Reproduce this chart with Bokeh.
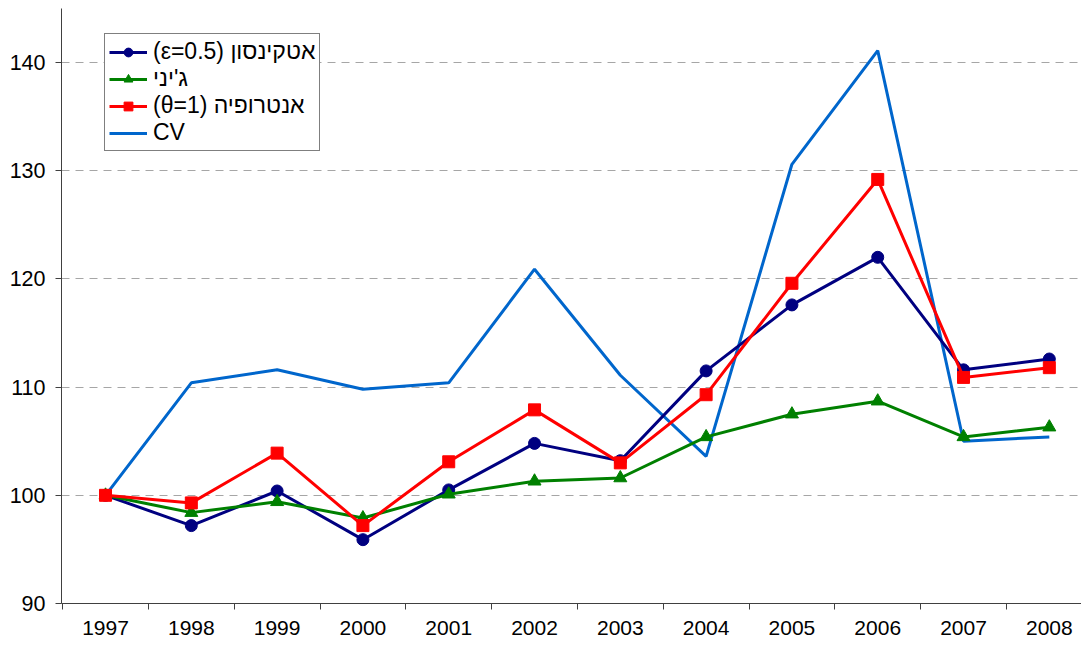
from bokeh.plotting import figure
from bokeh.models import FixedTicker, Legend, LegendItem, Range1d
from bokeh.embed import file_html
from bokeh.resources import INLINE

years = [1997, 1998, 1999, 2000, 2001, 2002, 2003, 2004, 2005, 2006, 2007, 2008]
atkinson = [100, 97.2, 100.4, 95.9, 100.5, 104.8, 103.2, 111.5, 117.6, 122.0, 111.6, 112.6]
gini = [100, 98.4, 99.4, 97.9, 100.1, 101.3, 101.6, 105.4, 107.5, 108.7, 105.4, 106.3]
entropy = [100, 99.3, 103.9, 97.2, 103.1, 107.9, 103.0, 109.3, 119.6, 129.2, 110.9, 111.8]
cv = [100, 110.4, 111.6, 109.8, 110.4, 120.9, 111.1, 103.6, 130.6, 141.1, 105.0, 105.4]

labels = ["(ε=0.5) אטקינסון", "ג'יני", "(θ=1) אנטרופיה", "CV"]
y_ticks = [90, 100, 110, 120, 130, 140]

FONT = "Liberation Sans"

p = figure(width=1081, height=640, output_backend="svg", toolbar_location=None,
           x_range=Range1d(1996.487, 2008.375), y_range=Range1d(90, 145),
           min_border_left=61, min_border_right=0, min_border_top=8, min_border_bottom=37)
p.outline_line_color = None
p.background_fill_color = "white"

# axes
xa = p.xaxis[0]
xa.ticker = FixedTicker(ticks=years, minor_ticks=[y + 0.5 for y in [years[0] - 1] + years])
xa.major_label_overrides = {y: str(y) for y in years}
xa.major_tick_out = 0
xa.major_tick_in = 0
xa.minor_tick_out = 6
xa.minor_tick_in = 0
xa.minor_tick_line_color = "#404040"
xa.axis_line_color = "#404040"
xa.major_label_text_font = FONT
xa.major_label_text_font_size = "21px"
xa.major_label_text_color = "black"
xa.major_label_standoff = 11

ya = p.yaxis[0]
ya.ticker = FixedTicker(ticks=y_ticks)
ya.major_tick_out = 6
ya.major_tick_in = 0
ya.minor_tick_out = 0
ya.minor_tick_in = 0
ya.major_tick_line_color = "#404040"
ya.axis_line_color = "#404040"
ya.major_label_text_font = FONT
ya.major_label_text_font_size = "21.5px"
ya.major_label_text_color = "black"
ya.major_label_standoff = 10

p.xgrid.grid_line_color = None
p.ygrid.ticker = FixedTicker(ticks=y_ticks[1:])
p.ygrid.grid_line_color = "#A6A6A6"
p.ygrid.grid_line_dash = "8 6"
p.ygrid.grid_line_width = 1

# series
r_cv = p.line(years, cv, line_color="#0066CC", line_width=3)

r_at = p.line(years, atkinson, line_color="#000080", line_width=3)
r_at_m = p.scatter(years, atkinson, marker="circle", size=12, fill_color="#000080", line_color="#000080")

r_gi = p.line(years, gini, line_color="#008000", line_width=3)
r_gi_m = p.scatter(years, gini, marker="triangle", size=13, fill_color="#008000", line_color="#008000")

r_en = p.line(years, entropy, line_color="#FF0000", line_width=3)
r_en_m = p.scatter(years, entropy, marker="square", size=12, fill_color="#FF0000", line_color="#FF0000")

legend = Legend(items=[
    LegendItem(label=labels[0], renderers=[r_at, r_at_m]),
    LegendItem(label=labels[1], renderers=[r_gi, r_gi_m]),
    LegendItem(label=labels[2], renderers=[r_en, r_en_m]),
    LegendItem(label=labels[3], renderers=[r_cv]),
], location=(43, 452))
legend.border_line_color = "black"
legend.border_line_width = 1
legend.background_fill_color = "white"
legend.background_fill_alpha = 1
legend.label_text_font = FONT
legend.label_text_font_size = "23px"
legend.label_text_color = "black"
legend.glyph_width = 38
legend.glyph_height = 22
legend.label_height = 22
legend.label_standoff = 6
legend.spacing = 0
legend.padding = 4
legend.margin = 0
p.add_layout(legend)

open("out.html", "w").write(file_html(p, INLINE))
